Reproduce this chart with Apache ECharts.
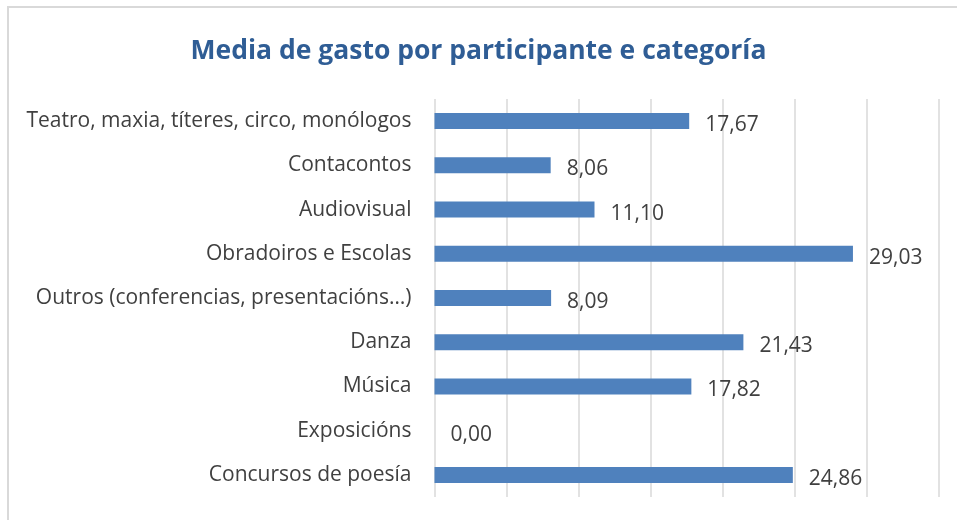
<!DOCTYPE html>
<html>
<head>
<meta charset="utf-8">
<script src="https://cdn.jsdelivr.net/npm/echarts@6/dist/echarts.min.js"></script>
<style>
  html, body { margin: 0; padding: 0; background: #fff; }
  #chart { width: 957px; height: 520px; }
</style>
</head>
<body>
<div id="chart"></div>
<script>
const categories = [
  'Teatro, maxia, títeres, circo, monólogos',
  'Contacontos',
  'Audiovisual',
  'Obradoiros e Escolas',
  'Outros (conferencias, presentacións…)',
  'Danza',
  'Música',
  'Exposicións',
  'Concursos de poesía'
];
const values = [17.67, 8.06, 11.10, 29.03, 8.09, 21.43, 17.82, 0.00, 24.86];

const chart = echarts.init(document.getElementById('chart'));
chart.setOption({
  backgroundColor: '#FFFFFF',
  textStyle: { fontFamily: 'Open Sans' },
  title: {
    text: 'Media de gasto por participante e categoría',
    left: 'center',
    top: 33,
    textStyle: {
      color: '#2F5D95',
      fontSize: 26.5,
      fontWeight: 'bold',
      fontFamily: 'Open Sans'
    }
  },
  graphic: [{
    type: 'rect',
    shape: { x: 8, y: 7, width: 1000, height: 600 },
    style: { fill: 'none', stroke: '#d9d9d9', lineWidth: 2 },
    silent: true
  }],
  grid: { left: 434.5, right: 18, top: 99, bottom: 23 },
  xAxis: {
    type: 'value',
    min: 0,
    max: 35,
    interval: 5,
    axisLabel: { show: false },
    axisLine: { show: false },
    axisTick: { show: false },
    splitLine: { lineStyle: { color: '#d9d9d9', width: 1.5 } }
  },
  yAxis: {
    type: 'category',
    data: categories,
    inverse: true,
    axisLine: { show: false },
    axisTick: { show: false },
    axisLabel: {
      margin: 23,
      color: '#404040',
      fontSize: 21,
      fontFamily: 'Open Sans',
      padding: [4, 0, 0, 0]
    }
  },
  series: [{
    type: 'bar',
    data: values,
    barWidth: 16,
    itemStyle: { color: '#4F81BD' },
    label: {
      show: true,
      position: 'right',
      distance: 16,
      offset: [0, 4],
      color: '#404040',
      fontSize: 21,
      fontFamily: 'Open Sans',
      formatter: p => p.value.toFixed(2).replace('.', ',')
    }
  }]
});
</script>
</body>
</html>
